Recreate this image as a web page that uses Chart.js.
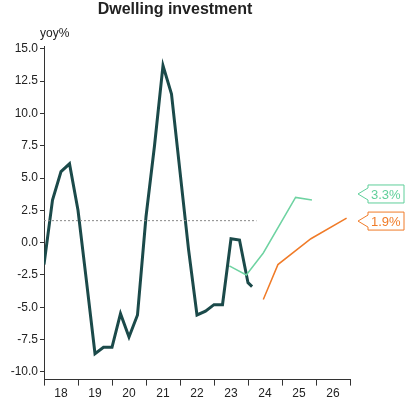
<!DOCTYPE html><html><head><script src="https://cdn.jsdelivr.net/npm/chart.js@4"></script>
<style>body{margin:0;background:#fff}#w{width:413px;height:413px}</style></head><body><div id="w"><canvas id="c"></canvas></div>
<script>
const mainX=[2018,2018.25,2018.5,2018.75,2019,2019.25,2019.5,2019.75,2020,2020.25,2020.5,2020.75,2021,2021.25,2021.5,2021.75,2022,2022.25,2022.5,2022.75,2023,2023.25,2023.5,2023.75,2024,2024.12];
const mainY=[-1.7,3.3,5.5,6.1,2.5,-3.0,-8.6,-8.1,-8.1,-5.5,-7.3,-5.6,2.0,7.5,13.7,11.5,5.5,-0.5,-5.6,-5.3,-4.8,-4.8,0.3,0.2,-3.1,-3.4];
const greenX=[2023.45,2023.95,2024.45,2025.4,2025.88];
const greenY=[-1.8,-2.5,-0.8,3.5,3.3];
const orangeX=[2024.45,2024.88,2025.85,2026.9];
const orangeY=[-4.4,-1.7,0.3,1.9];
const avgX=[2018,2024.25], avgY=[1.7,1.7];
const yearLabels=['18','19','20','21','22','23','24','25','26'];
const pts=(xs,ys)=>xs.map((x,i)=>({x,y:ys[i]}));
const tagPlugin={id:'tags',afterDatasetsDraw(ch){const c=ch.ctx,ys=ch.scales.y,xs=ch.scales.x;
 c.save();c.font='13px "Liberation Sans",Arial';c.textBaseline='middle';
 [[3.3,'3.3%','#5fcf9a'],[1.9,'1.9%','#f07b28']].forEach(([v,t,col],i)=>{
  const yy=ys.getPixelForValue(v)+(i==0?-2:1)*3;const x0=358,w=46,h=18;
  c.strokeStyle=col;c.lineWidth=1;c.beginPath();c.moveTo(x0,yy);c.lineTo(x0+10,yy-6);c.lineTo(x0+10,yy-h/2);c.lineTo(x0+w,yy-h/2);c.lineTo(x0+w,yy+h/2);c.lineTo(x0+10,yy+h/2);c.lineTo(x0+10,yy+6);c.closePath();c.fillStyle='#fff';c.fill();c.stroke();
  c.fillStyle=col;c.textAlign='left';c.fillText(t,x0+13,yy+1);});
 c.fillStyle='#222';c.font='12px "Liberation Sans",Arial';c.textAlign='center';c.textBaseline='top';
 yearLabels.forEach((l,i)=>c.fillText(l,xs.getPixelForValue(2018.5+i),ys.bottom+8));
 c.textAlign='left';c.textBaseline='alphabetic';c.fillText('yoy%',40,ys.top-9);
 c.restore();}};
new Chart(document.getElementById('c'),{type:'line',
data:{datasets:[
 {data:pts(avgX,avgY),borderColor:'#888',borderWidth:1,borderDash:[2,2],pointRadius:0},
 {data:pts(greenX,greenY),borderColor:'#6fd3a2',borderWidth:1.5,pointRadius:0},
 {data:pts(orangeX,orangeY),borderColor:'#f07b28',borderWidth:1.5,pointRadius:0},
 {data:pts(mainX,mainY),borderColor:'#1b4a4a',borderWidth:3,pointRadius:0}]},
options:{responsive:true,maintainAspectRatio:false,animation:false,
 layout:{padding:{left:0,right:63,top:0,bottom:7}},
 plugins:{legend:{display:false},tooltip:{enabled:false},
  title:{display:true,text:'Dwelling investment',color:'#222',font:{size:16,weight:'bold',family:'"Liberation Sans",Arial'},padding:{top:0,bottom:27}}},
 scales:{
  x:{type:'linear',min:2018,max:2027,border:{color:'#333'},grid:{display:true,drawOnChartArea:false,tickLength:6,color:'#333'},ticks:{stepSize:1,callback:()=>'',font:{size:12}}},
  y:{min:-10.6,max:15.2,afterFit(s){s.width=44},border:{color:'#333'},grid:{drawOnChartArea:false,tickLength:4,color:'#333'},
   afterBuildTicks(s){s.ticks=[-10,-7.5,-5,-2.5,0,2.5,5,7.5,10,12.5,15].map(v=>({value:v}))},
   ticks:{color:'#222',font:{size:12,family:'"Liberation Sans",Arial'},padding:2,callback:v=>v.toFixed(1)}}}},
plugins:[tagPlugin]});
</script></body></html>
